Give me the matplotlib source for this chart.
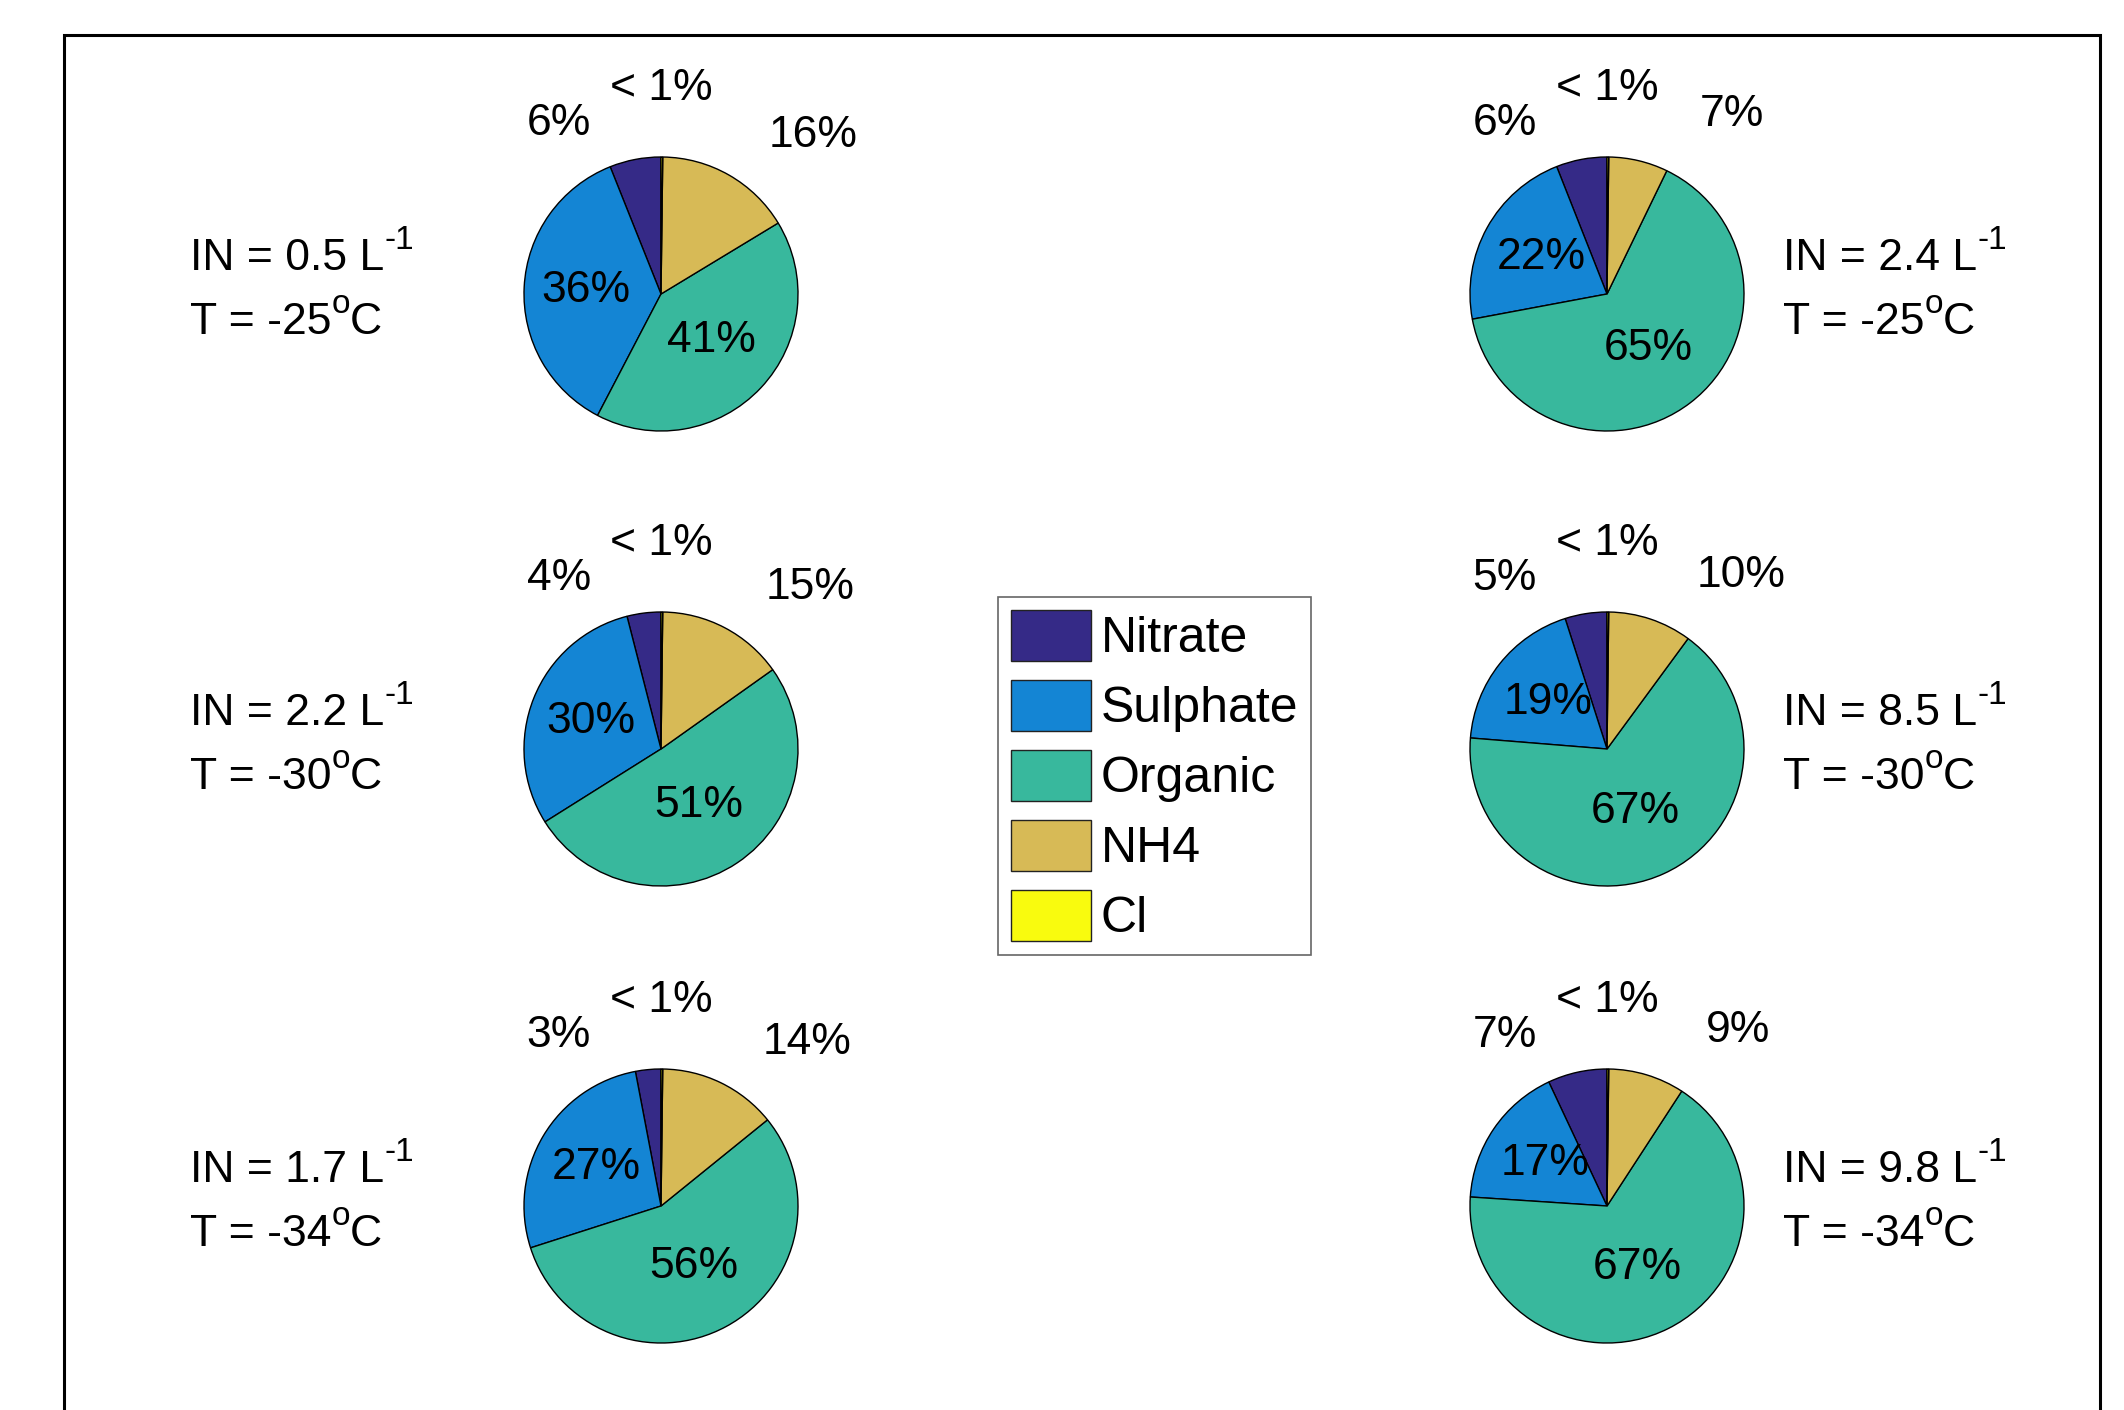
import numpy as np
import matplotlib.pyplot as plt
from matplotlib.patches import Patch, Rectangle

plt.rcParams['font.family'] = ['Liberation Sans', 'DejaVu Sans']

species = ['Nitrate', 'Sulphate', 'Organic', 'NH4', 'Cl']
colors = ['#352a87', '#1485d4', '#38b89d', '#d7ba56', '#f9fb0e']

# left column top->bottom, then right column top->bottom
in_conc = ['0.5', '2.2', '1.7', '2.4', '8.5', '9.8']
temps = [-25, -30, -34, -25, -30, -34]
nitrate = [6, 4, 3, 6, 5, 7]
sulphate = [36, 30, 27, 22, 19, 17]
organic = [41, 51, 56, 65, 67, 67]
nh4 = [16, 15, 14, 7, 10, 9]
cl = [0.2, 0.2, 0.2, 0.2, 0.2, 0.2]

W, H = 2124, 1410
fig = plt.figure(figsize=(W / 100, H / 100), dpi=100)
ax = fig.add_axes([0, 0, 1, 1])

col_x = [661, 1607]
row_y = [1116, 661, 204]
R = 137
text_x = [190, 1783]
FS = 32
SUP = 24


def label_spot(mid, v):
    # big slices get the label inside, small ones go outside
    if v > 16.5:
        return mid, (0.55 if v < 40 else 0.5)
    if mid > 92:
        return 121, 1.45
    if mid > 87:
        return 90, 1.5
    return 0.55 * mid + 13, 1.6


def sup_text(x, y, base, sup, tail=''):
    # plain text with a raised small piece, MATLAB-style
    t = ax.text(x, y, base, ha='left', va='baseline', fontsize=FS)
    s = ax.annotate(sup, xy=(1, 0.95), xycoords=t, ha='left', va='center',
                    fontsize=SUP)
    if tail:
        ax.annotate(tail, xy=(1, 0), xycoords=(s, t), ha='left', va='bottom',
                    fontsize=FS)


for i in range(6):
    col, row = i // 3, i % 3
    cx, cy = col_x[col], row_y[row]
    vals = [nitrate[i], sulphate[i], organic[i], nh4[i], cl[i]]
    wedges, _ = ax.pie(vals, colors=colors, startangle=90, counterclock=True,
                       center=(cx, cy), radius=R, frame=True,
                       wedgeprops=dict(edgecolor='black', linewidth=1))
    for w, v in zip(wedges, vals):
        mid = ((w.theta1 + w.theta2) / 2) % 360
        ang, d = label_spot(mid, v)
        txt = '< 1%' if v < 1 else f'{v:.0f}%'
        ax.text(cx + d * R * np.cos(np.radians(ang)),
                cy + d * R * np.sin(np.radians(ang)),
                txt, ha='center', va='center', fontsize=FS)

    sup_text(text_x[col], cy + 24, f'IN = {in_conc[i]} L', '-1')
    sup_text(text_x[col], cy - 40, f'T = {temps[i]}', 'o', 'C')

# outer box (runs off the bottom edge)
ax.add_patch(Rectangle((64, -40), 2100 - 64, 1375 + 40, fill=False,
                       edgecolor='black', linewidth=2.2, clip_on=False))

handles = [Patch(facecolor=c, edgecolor='#222222', label=s)
           for c, s in zip(colors, species)]
leg = ax.legend(handles=handles, loc='upper left',
                bbox_to_anchor=(998 / W, 1 - 597 / H), bbox_transform=fig.transFigure,
                borderaxespad=0, fontsize=36, fancybox=False, edgecolor='#666666',
                handlelength=1.6, handleheight=1.2, labelspacing=0.35,
                handletextpad=0.2, borderpad=0.25, framealpha=1)
leg.get_frame().set_linewidth(1.2)

ax.set_xlim(0, W)
ax.set_ylim(0, H)
ax.set_aspect('equal')
ax.axis('off')

fig.savefig('out.png', dpi=100)
